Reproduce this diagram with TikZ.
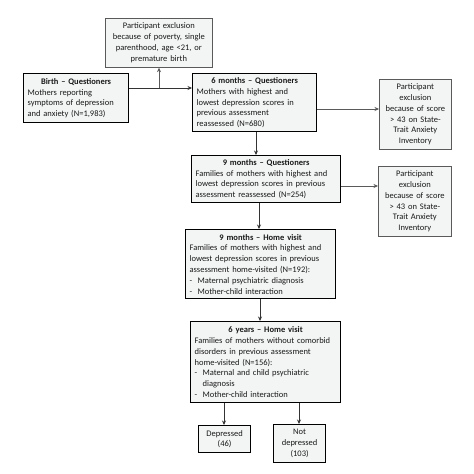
\documentclass[tikz,border=0pt]{standalone}
\usepackage{fontspec}
\setmainfont{Carlito}
\usetikzlibrary{arrows.meta}
\definecolor{boxfill}{HTML}{F3F4F4}
\definecolor{txt}{HTML}{1A1A1A}
\definecolor{thinline}{HTML}{5A5A5A}
\newcommand{\bul}[1]{\makebox[8pt][l]{-}#1}
\newcommand{\cont}[1]{\hspace*{8pt}#1}
\begin{document}
\begin{tikzpicture}[x=1pt,y=-1pt,
  mainbox/.style={draw=black,line width=1.2pt,fill=boxfill,anchor=north west,
    inner xsep=4pt,inner ysep=2pt,align=left,font=\fontsize{8.5}{10.8}\selectfont,text=txt},
  exbox/.style={draw=thinline,line width=0.7pt,fill=boxfill,anchor=north west,
    inner xsep=2pt,inner ysep=2pt,align=center,font=\fontsize{8.5}{10.8}\selectfont,text=txt},
  mainarrow/.style={draw=black!80,line width=1pt,-{Stealth[length=4.5pt,width=4pt]}},
  exarrow/.style={draw=thinline,line width=0.6pt,-{Stealth[length=4.5pt,width=4pt]}}]
\useasboundingbox (0,0) rectangle (474,474);
\fill[white] (0,0) rectangle (474,474);

\node[exbox,minimum width=107pt,minimum height=49pt,text width=103pt] (ex1) at (105,18)
  {Participant exclusion\\because of poverty, single\\parenthood, age <21, or\\premature birth};

\node[mainbox,minimum width=105pt,minimum height=49pt,text width=97pt] (birth) at (23,73)
  {\centering\textbf{Birth – Questioners}\par\raggedright Mothers reporting\\symptoms of depression\\and anxiety (N=1,983)};

\node[mainbox,minimum width=124pt,minimum height=58pt,text width=116pt] (m6) at (192,73)
  {\centering\textbf{6 months – Questioners}\par\raggedright Mothers with highest and\\lowest depression scores in\\previous assessment\\reassessed (N=680)};

\node[exbox,minimum width=72pt,minimum height=70pt,text width=68pt] (ex2) at (379,79)
  {Participant\\exclusion\\because of score\\> 43 on State-\\Trait Anxiety\\Inventory};

\node[mainbox,minimum width=149pt,minimum height=47pt,text width=141pt] (m9q) at (191,155)
  {\centering\textbf{9 months – Questioners}\par\raggedright Families of mothers with highest and\\lowest depression scores in previous\\assessment reassessed (N=254)};

\node[exbox,minimum width=73pt,minimum height=70pt,text width=69pt] (ex3) at (378,166)
  {Participant\\exclusion\\because of score\\> 43 on State-\\Trait Anxiety\\Inventory};

\node[mainbox,minimum width=150pt,minimum height=69pt,text width=142pt] (m9h) at (185,229)
  {\centering\textbf{9 months – Home visit}\par\raggedright Families of mothers with highest and\\lowest depression scores in previous\\assessment home-visited (N=192):\\\bul{Maternal psychiatric diagnosis}\\\bul{Mother-child interaction}};

\node[mainbox,minimum width=150pt,minimum height=81pt,text width=142pt] (y6) at (190,321)
  {\centering\textbf{6 years – Home visit}\par\raggedright Families of mothers without comorbid\\disorders in previous assessment\\home-visited (N=156):\\\bul{Maternal and child psychiatric}\\\cont{diagnosis}\\\bul{Mother-child interaction}};

\node[mainbox,align=center,inner xsep=2pt,minimum width=52pt,minimum height=27pt,text width=48pt] (dep) at (198,425)
  {Depressed\\(46)};

\node[mainbox,align=center,inner xsep=2pt,minimum width=52pt,minimum height=38pt,text width=48pt] (ndep) at (273,424)
  {Not\\depressed\\(103)};

\coordinate (split) at (159,88);
\draw[mainarrow] (birth.east |- split) -- (m6.west |- split);
\draw[exarrow] (split) -- (split |- ex1.south);

\coordinate (e2) at (0,109);
\draw[exarrow] (m6.east |- e2) -- (ex2.west |- e2);
\coordinate (e3) at (0,186);
\draw[exarrow] (m9q.east |- e3) -- (ex3.west |- e3);

\coordinate (d1) at (256,0);
\draw[mainarrow] (m6.south -| d1) -- (m9q.north -| d1);
\coordinate (d2) at (259,0);
\draw[mainarrow] (m9q.south -| d2) -- (m9h.north -| d2);
\coordinate (d3) at (260,0);
\draw[mainarrow] (m9h.south -| d3) -- (y6.north -| d3);
\coordinate (d4) at (224,0);
\draw[mainarrow] (y6.south -| d4) -- (dep.north -| d4);
\coordinate (d5) at (299,0);
\draw[mainarrow] (y6.south -| d5) -- (ndep.north -| d5);
\end{tikzpicture}
\end{document}
